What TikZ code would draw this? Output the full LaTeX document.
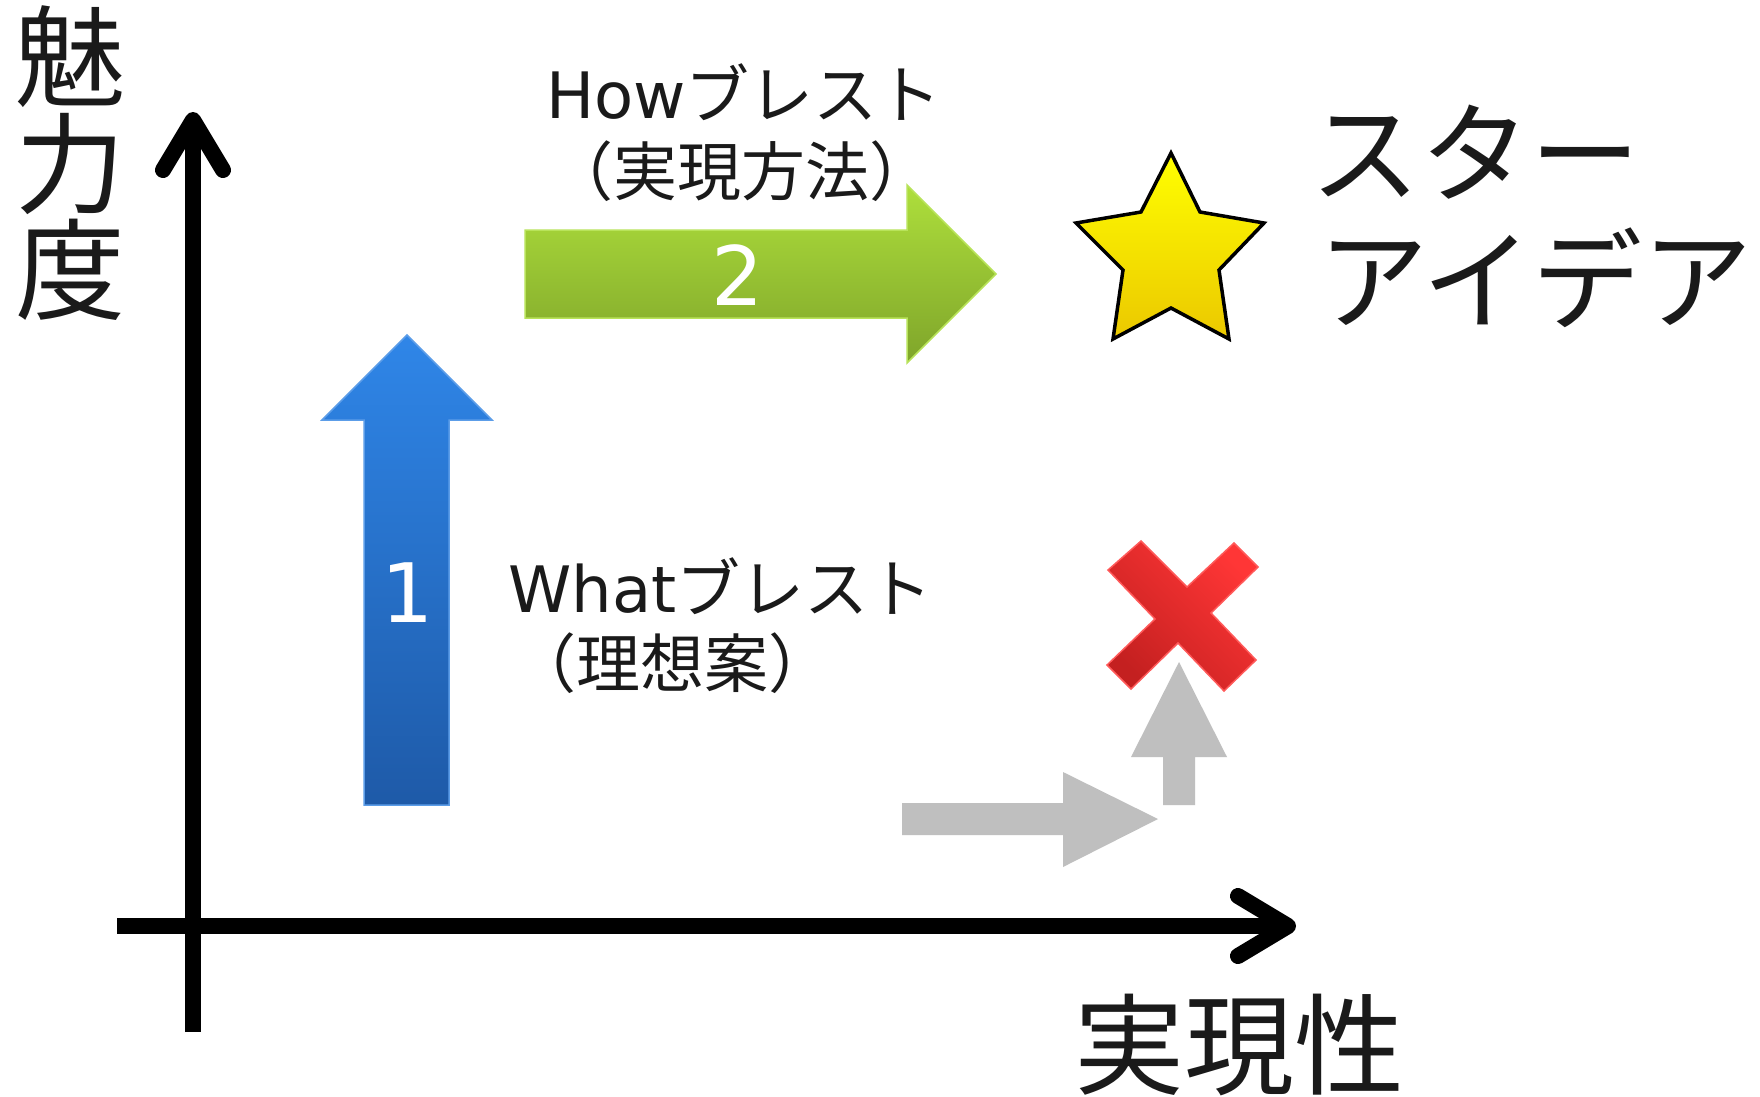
\documentclass[tikz,border=0pt]{standalone}
\usepackage{fontspec}
\setmainfont{Noto Sans CJK JP}
\newfontfamily\latinfont{DejaVu Sans}
\definecolor{ink}{HTML}{1A1A1A}
\definecolor{bluetop}{HTML}{2F86E8}
\definecolor{bluebot}{HTML}{1E5AA8}
\definecolor{blueedge}{HTML}{5C9DE8}
\definecolor{greentop}{HTML}{AEDF3C}
\definecolor{greenbot}{HTML}{7FA52A}
\definecolor{greenedge}{HTML}{B8E35A}
\definecolor{redtop}{HTML}{FF3636}
\definecolor{redbot}{HTML}{C42020}
\definecolor{rededge}{HTML}{FF5A5A}
\definecolor{grayarrow}{HTML}{BFBFBF}
\definecolor{startop}{HTML}{FFFF00}
\definecolor{starbot}{HTML}{EBC800}
\begin{document}
\begin{tikzpicture}[x=1pt,y=-1pt,
  axisline/.style={line width=16pt, draw=black},
  txt/.style={inner sep=0pt, text=ink},
  bigtxt/.style={txt, font=\fontsize{110}{110}\selectfont},
  midtxt/.style={txt, font=\fontsize{64}{64}\selectfont},
  numtxt/.style={inner sep=0pt, text=white, font=\fontsize{82}{82}\selectfont\latinfont}]
\useasboundingbox[fill=white] (0,0) rectangle (1760,1096);

% ---- axes ----
\coordinate (ybot) at (193,1032);
\coordinate (ytip) at (193,120);
\coordinate (yl) at (163,170);
\coordinate (yr) at (223,170);
\coordinate (xleft) at (117,926);
\coordinate (xtip) at (1288,926);
\coordinate (xu) at (1238,896);
\coordinate (xd) at (1238,956);
\draw[axisline] (ybot) -- (ytip);
\draw[axisline, line cap=round, line join=round] (yl) -- (ytip) -- (yr);
\draw[axisline] (xleft) -- (xtip);
\draw[axisline, line cap=round, line join=round] (xu) -- (xtip) -- (xd);

% ---- axis labels ----
\node[bigtxt, anchor=base] (mi) at (70,98) {魅};
\node[bigtxt, anchor=base] (ryoku) at (70,205) {力};
\node[bigtxt, anchor=base] (do) at (70,311) {度};
\node[bigtxt, anchor=base] (jitsugen) at (1239,1086) {実現性};

% ---- blue arrow 1 ----
\shadedraw[top color=bluetop, bottom color=bluebot, draw=blueedge, line width=1.5pt]
  (407,335) -- (492,420) -- (449,420) -- (449,805) -- (364,805) -- (364,420) -- (322,420) -- cycle;
\node[numtxt] (one) at (408,593) {1};

% ---- green arrow 2 ----
\shadedraw[top color=greentop, bottom color=greenbot, draw=greenedge, line width=1.5pt]
  (525,230) -- (907,230) -- (907,185) -- (996,274) -- (907,363) -- (907,318) -- (525,318) -- cycle;
\node[numtxt] (two) at (738,275) {2};

% ---- texts ----
\node[midtxt, anchor=base west] (how) at (546,118) {{\latinfont How}ブレスト};
\node[midtxt, anchor=base west] (howsub) at (549,195) {（実現方法）};
\node[midtxt, anchor=base west] (what) at (508,612) {{\latinfont What}ブレスト};
\node[midtxt, anchor=base west] (whatsub) at (512,687) {（理想案）};
\node[bigtxt, anchor=base west] (star1) at (1310,194) {スター};
\node[bigtxt, anchor=base west] (star2) at (1318,321) {アイデア};

% ---- star ----
\shadedraw[top color=startop, bottom color=starbot, draw=black, line width=3.5pt, line join=miter]
  (1171,153) -- (1200,212) -- (1264,223) -- (1219,270) -- (1229,339) -- (1171,308)
  -- (1113,339) -- (1123,270) -- (1076,223) -- (1141,212) -- cycle;

% ---- red cross ----
\shadedraw[top color=redtop, bottom color=redbot, shading angle=-45, draw=rededge, line width=1.5pt]
  (1108,570) -- (1141,541) -- (1187,587) -- (1234,543) -- (1258,567) -- (1211,613)
  -- (1256,660) -- (1224,691) -- (1178,643) -- (1131,689) -- (1107,665) -- (1155,619) -- cycle;

% ---- gray arrows ----
\fill[grayarrow] (902,803) -- (1063,803) -- (1063,772) -- (1158,819) -- (1063,867) -- (1063,835) -- (902,835) -- cycle;
\fill[grayarrow] (1163,805) -- (1163,757) -- (1131,757) -- (1179,662) -- (1227,757) -- (1195,757) -- (1195,805) -- cycle;
\end{tikzpicture}
\end{document}
